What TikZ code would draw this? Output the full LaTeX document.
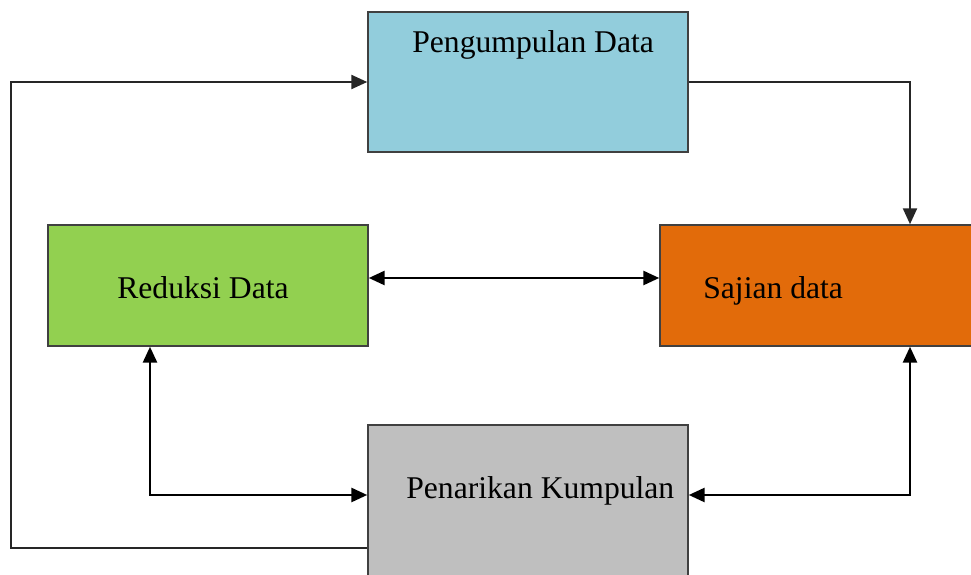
\documentclass[tikz,border=0pt]{standalone}
\usepackage{fontspec}
\setmainfont{Liberation Serif}
\usetikzlibrary{arrows.meta}

\definecolor{boxblue}{HTML}{92CDDC}
\definecolor{boxgreen}{HTML}{92D050}
\definecolor{boxorange}{HTML}{E26B0A}
\definecolor{boxgray}{HTML}{BFBFBF}

\tikzset{
  stagebox/.style={draw=black!75, line width=0.9pt, inner sep=0pt},
  stagetext/.style={anchor=base west, inner sep=0pt, font=\fontsize{18}{22}\selectfont},
  flow/.style={line width=1pt, draw=black!85, -{Triangle[length=9pt,width=8pt]}},
  twoway/.style={line width=1.3pt, {Triangle[length=9pt,width=8pt]}-{Triangle[length=9pt,width=8pt]}}
}

\begin{document}
\begin{tikzpicture}

  \clip (0,0) rectangle (19.42,-11.5);
  \fill[white] (0,0) rectangle (19.42,-11.5);

  % The four boxes
  \node[stagebox, fill=boxblue, minimum width=6.4cm, minimum height=2.8cm] (peng) at (10.56,-1.64) {};
  \node[stagebox, fill=boxgreen, minimum width=6.4cm, minimum height=2.42cm] (redu) at (4.16,-5.71) {};
  \node[stagebox, fill=boxorange, minimum width=6.6cm, minimum height=2.42cm] (saji) at (16.5,-5.71) {};
  \node[stagebox, fill=boxgray, minimum width=6.4cm, minimum height=3.5cm] (pena) at (10.56,-10.25) {};

  % Box texts
  \node[stagetext] (pengtxt) at (8.24,-1.06) {Pengumpulan Data};
  \node[stagetext] (redutxt) at (2.34,-5.98) {Reduksi Data};
  \node[stagetext] (sajitxt) at (14.06,-5.98) {Sajian data};
  \node[stagetext] (penatxt) at (8.12,-9.98) {Penarikan Kumpulan};

  % Connectors
  \coordinate (loopleft) at (0.22,-1.64);
  \draw[flow] (peng.east) -| ([xshift=1.7cm]saji.north);
  \draw[twoway] ([yshift=0.15cm]redu.east) -- ([yshift=0.15cm]saji.west);
  \draw[twoway] ([xshift=-1.16cm]redu.south) |- ([yshift=0.35cm]pena.west);
  \draw[twoway] ([xshift=1.7cm]saji.south) |- ([yshift=0.35cm]pena.east);
  \draw[flow] ([yshift=-0.71cm]pena.west) -| (loopleft) -- (peng.west);

\end{tikzpicture}
\end{document}
